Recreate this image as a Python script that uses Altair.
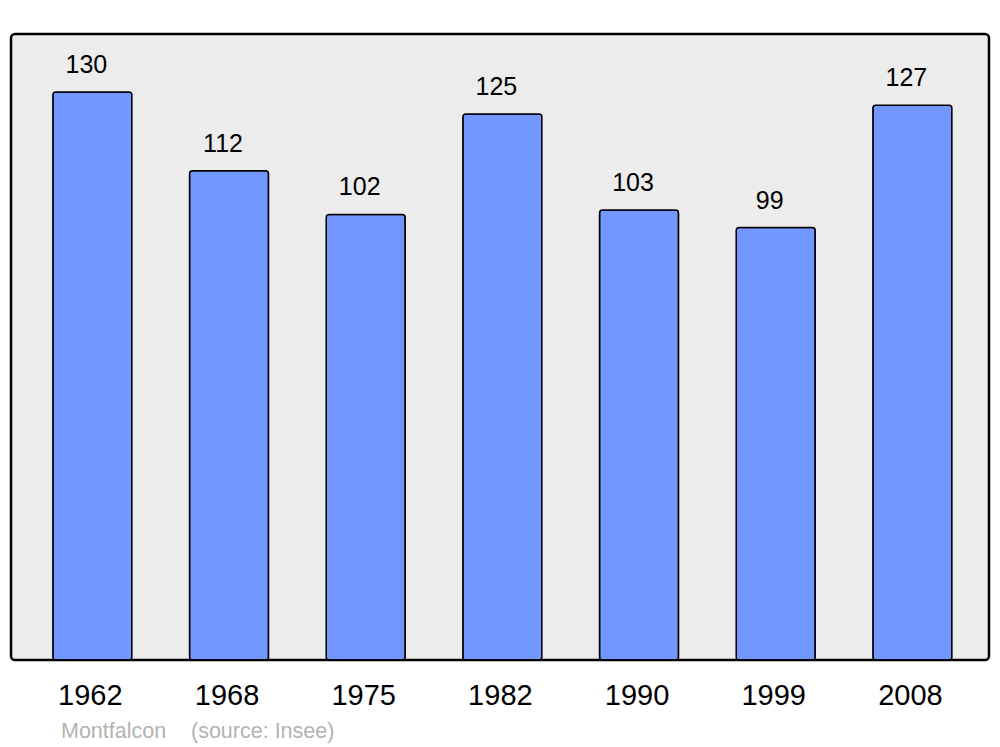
import altair as alt
import pandas as pd

years = ["1962", "1968", "1975", "1982", "1990", "1999", "2008"]
population = [130, 112, 102, 125, 103, 99, 127]
note_texts = ["Montfalcon", "(source: Insee)"]
note_x = [50, 180]

df = pd.DataFrame({"year": years, "pop": population})

x = alt.X("year:N", sort=years, title=None,
          scale=alt.Scale(paddingInner=0.422, paddingOuter=0.289, align=0.53),
          axis=alt.Axis(labelAngle=0, ticks=False, domain=False, labelFontSize=29,
                        labelFont="Liberation Sans", labelColor="black", labelPadding=21,
                        labelOffset=-2))
y = alt.Y("pop:Q", title=None, scale=alt.Scale(domain=[0, 143.3], nice=False, zero=True),
          axis=None)

bars = alt.Chart(df).mark_bar(color="#7298ff", stroke="black", strokeWidth=1.5,
                              cornerRadius=3).encode(x=x, y=y)
labels = alt.Chart(df).mark_text(baseline="alphabetic", dy=-19, dx=-6, fontSize=25,
                                 font="Liberation Sans", color="black").encode(
    x=x, y=y, text="pop:Q")

note_df = pd.DataFrame({"t": note_texts, "px": note_x})
note = alt.Chart(note_df).mark_text(
    align="left", baseline="alphabetic", fontSize=21.5, font="Liberation Sans",
    color="#b3b3b3").encode(
    x=alt.X("px:Q", scale=None), y=alt.value(704), text="t:N")

chart = alt.layer(bars, labels, note).properties(
    width=978, height=626,
    autosize=alt.AutoSizeParams(type="none"),
    padding={"left": 3, "top": 26, "right": 3, "bottom": 90},
    background="white",
).configure_view(fill="#ececec", stroke="black", strokeWidth=2.5, cornerRadius=4)

chart.save("out.html", embed_options={"renderer": "svg", "actions": False})
